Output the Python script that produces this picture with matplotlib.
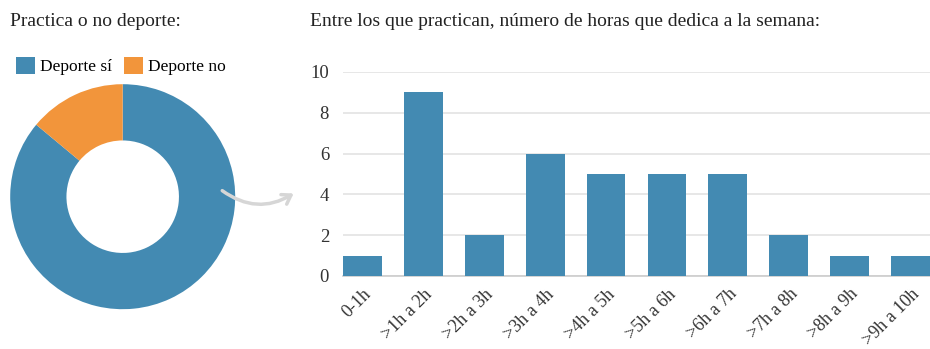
import matplotlib
matplotlib.use("Agg")
import matplotlib.pyplot as plt
from matplotlib.patches import FancyArrowPatch

plt.rcParams['font.family'] = ['Liberation Serif', 'DejaVu Serif']

# datos
deporte_labels = ['Deporte sí', 'Deporte no']
deporte_vals = [37, 6]
horas_labels = ['0-1h', '>1h a 2h', '>2h a 3h', '>3h a 4h', '>4h a 5h',
                '>5h a 6h', '>6h a 7h', '>7h a 8h', '>8h a 9h', '>9h a 10h']
horas_vals = [1, 9, 2, 6, 5, 5, 5, 2, 1, 1]

azul = '#438ab2'
naranja = '#f2953b'
W, H = 930, 349

fig = plt.figure(figsize=(W / 100, H / 100), dpi=100)

# titulos
fig.text(10 / W, 1 - 26 / H, 'Practica o no deporte:', fontsize=14, color='#222222', va='baseline')
fig.text(310 / W, 1 - 26 / H, 'Entre los que practican, número de horas que dedica a la semana:',
         fontsize=14, color='#222222', va='baseline')

# grafico de dona
cx, cy, r = 122.7, 196.7, 112.5
ax1 = fig.add_axes([(cx - r) / W, (H - cy - r) / H, 2 * r / W, 2 * r / H])
wedges, _ = ax1.pie(deporte_vals, colors=[azul, naranja], startangle=90, counterclock=False,
                    radius=1, wedgeprops=dict(width=0.5, linewidth=0))
ax1.set_xlim(-1, 1)
ax1.set_ylim(-1, 1)
ax1.set_aspect('equal')
ax1.axis('off')

fig.legend(wedges, deporte_labels, loc='upper left', bbox_to_anchor=(16 / W, 1 - 57 / H),
           ncol=2, frameon=False, fontsize=12.5, handlelength=1.09, handleheight=1.09,
           handletextpad=0.29, columnspacing=0.71, borderaxespad=0, borderpad=0)

# flecha curva
fig.patches.append(FancyArrowPatch(
    (220 / W, 1 - 189 / H), (296 / W, 1 - 192 / H), transform=fig.transFigure,
    connectionstyle='arc3,rad=0.35', arrowstyle='->,head_length=6,head_width=4',
    color='#d6d6d6', linewidth=2.5, capstyle='round', joinstyle='round'))

# histograma de horas
bw = 39 / 61.3
left, right = 343, 930
y0, y10 = 276, 72
ax2 = fig.add_axes([left / W, (H - y0) / H, (right - left) / W, (y0 - y10) / H])
x = range(len(horas_vals))
ax2.bar(x, horas_vals, width=bw, color=azul, zorder=3)
ax2.set_xlim(-bw / 2, len(horas_vals) - 1 + bw / 2)
ax2.set_ylim(0, 10)
ax2.set_yticks([0, 2, 4, 6, 8, 10])
ax2.yaxis.grid(True, color='#e3e3e3', linewidth=1.2, zorder=0)
ax2.set_axisbelow(True)
for s in ['top', 'right', 'left']:
    ax2.spines[s].set_visible(False)
ax2.spines['bottom'].set_color('#cccccc')
ax2.spines['bottom'].set_linewidth(1.2)
ax2.tick_params(axis='y', length=0, labelsize=13.5, colors='#333333', pad=10)
ax2.set_xticks(list(x))
ax2.set_xticklabels(horas_labels, rotation=45, ha='right', rotation_mode='anchor')
ax2.tick_params(axis='x', length=0, labelsize=13, colors='#333333', pad=7)
for t in ax2.get_yticklabels() + ax2.get_xticklabels():
    t.set_clip_on(False)

fig.savefig('out.png', dpi=100)
